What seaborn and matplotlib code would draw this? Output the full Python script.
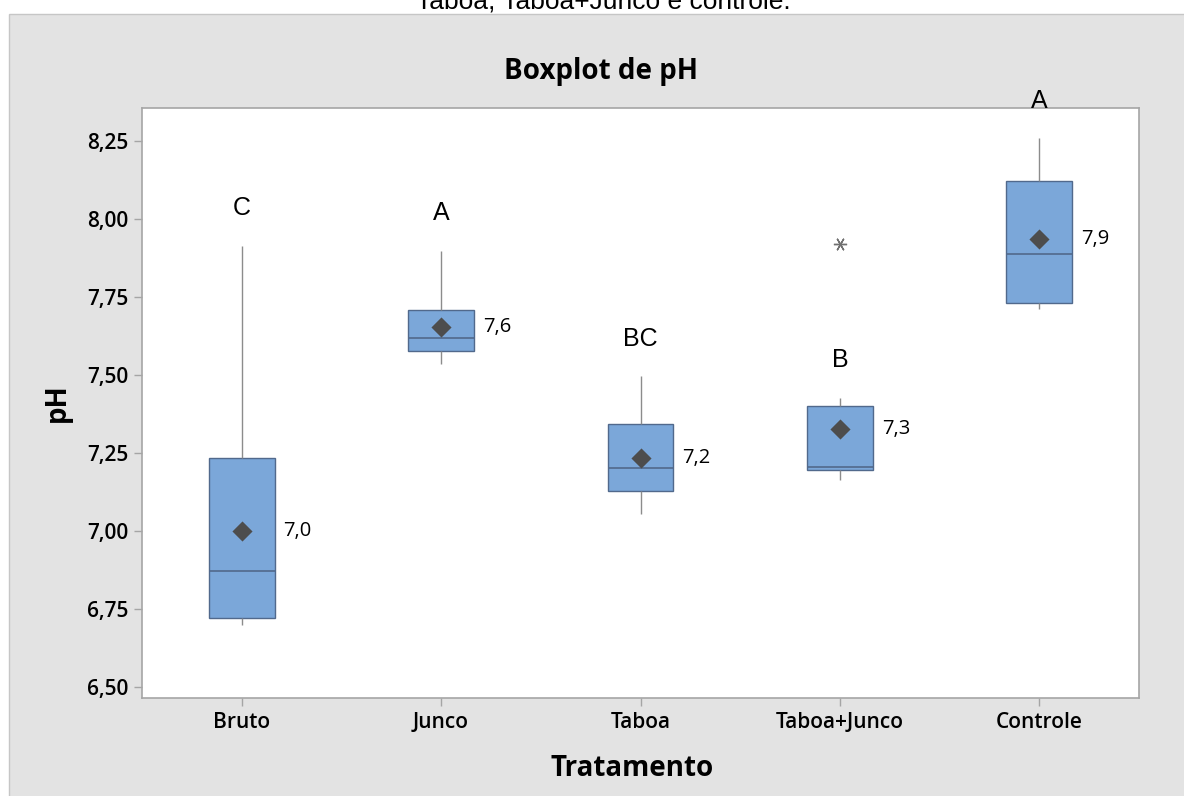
import numpy as np
import pandas as pd
import seaborn as sns
from matplotlib import pyplot as plt
from matplotlib.patches import Rectangle
from matplotlib.ticker import FuncFormatter, MultipleLocator

tratamentos = ['Bruto', 'Junco', 'Taboa', 'Taboa+Junco', 'Controle']
whisk_lo = [6.700, 7.535, 7.055, 7.165, 7.711]
q1 = [6.720, 7.577, 7.127, 7.196, 7.730]
mediana = [6.873, 7.618, 7.201, 7.206, 7.889]
q3 = [7.233, 7.708, 7.343, 7.401, 8.121]
whisk_hi = [7.914, 7.898, 7.497, 7.427, 8.259]
outliers = [[], [], [], [7.920], []]
medias = [7.000, 7.655, 7.233, 7.327, 7.936]
rotulos_media = ['7,0', '7,6', '7,2', '7,3', '7,9']
letras = ['C', 'A', 'BC', 'B', 'A']

# amostras que reproduzem os quartis (percentil linear do numpy)
rows = []
for i, t in enumerate(tratamentos):
    vals = [whisk_lo[i], q1[i], q1[i], mediana[i], mediana[i], q3[i], q3[i], whisk_hi[i]] + outliers[i]
    for v in vals:
        rows.append({'Tratamento': t, 'pH': v})
df = pd.DataFrame(rows)

sns.set_theme(style='ticks')
plt.rcParams['font.family'] = ['Open Sans', 'DejaVu Sans']
plt.rcParams['text.color'] = 'black'
plt.rcParams['axes.labelcolor'] = 'black'

W, H = 1184, 796
fig = plt.figure(figsize=(W / 100, H / 100), dpi=100)
fig.patch.set_facecolor('white')
fundo = Rectangle((9 / W, -0.01), 1.0, (H - 14) / H + 0.01, transform=fig.transFigure,
                  facecolor='#e3e3e3', edgecolor='#c6c6c6', linewidth=1, zorder=-10)
fig.patches.append(fundo)

ax = fig.add_axes([142 / W, 1 - 698 / H, (1139 - 142) / W, (698 - 108) / H])
ax.set_facecolor('white')

sns.boxplot(data=df, x='Tratamento', y='pH', order=tratamentos, width=0.33,
            color='#7ba7d9', saturation=1, linecolor='#51698c', linewidth=1.0,
            showcaps=False,
            whiskerprops=dict(color='#8c8c8c', linewidth=1.0),
            medianprops=dict(color='#51698c', linewidth=1.2),
            flierprops=dict(marker=(6, 2, 90), markersize=9.5, markeredgecolor='#707070',
                            markerfacecolor='none', markeredgewidth=1.0),
            ax=ax)

pos = np.arange(len(tratamentos))
ax.scatter(pos, medias, marker='D', s=105, color='#4d4d4d', linewidths=0, zorder=5)

for i in range(len(tratamentos)):
    ax.text(pos[i] + 0.21, medias[i], rotulos_media[i], ha='left', va='center', fontsize=14.5,
            color='black')
    ax.text(pos[i], whisk_hi[i] + 0.12, letras[i], ha='center', va='center', fontsize=18,
            family='Liberation Sans', color='black', clip_on=False)

ax.set_xlim(-0.5, len(tratamentos) - 0.5)
ax.set_ylim(6.465, 8.356)
ax.yaxis.set_major_locator(MultipleLocator(0.25))
ax.yaxis.set_major_formatter(FuncFormatter(lambda v, p: f'{v:.2f}'.replace('.', ',')))

for s in ax.spines.values():
    s.set_visible(True)
    s.set_color('#a5a5a5')
    s.set_linewidth(1.2)
ax.tick_params(axis='both', direction='out', length=6, width=1, color='#a5a5a5',
               labelsize=15, pad=4, labelcolor='black')
for lab in ax.get_xticklabels() + ax.get_yticklabels():
    lab.set_fontweight('semibold')

ax.set_xlabel('Tratamento', fontsize=20, fontweight='bold', color='black')
ax.set_ylabel('pH', fontsize=20, fontweight='bold', color='black')
ax.xaxis.set_label_coords((632 - 142) / 997, -(769 - 698) / 590)
ax.xaxis.label.set_va('center')
ax.yaxis.set_label_coords((57 - 142) / 997, 0.5)
ax.yaxis.label.set_va('center')

fig.text(601 / W, 1 - 72 / H, 'Boxplot de pH', ha='center', va='center', fontsize=20,
         fontweight='bold', color='black')
fig.text(603 / W, 1 - 9 / H, 'Taboa, Taboa+Junco e controle.', ha='center', va='baseline',
         fontsize=19, family='Liberation Sans', color='black')

fig.savefig('out.png', dpi=100)
